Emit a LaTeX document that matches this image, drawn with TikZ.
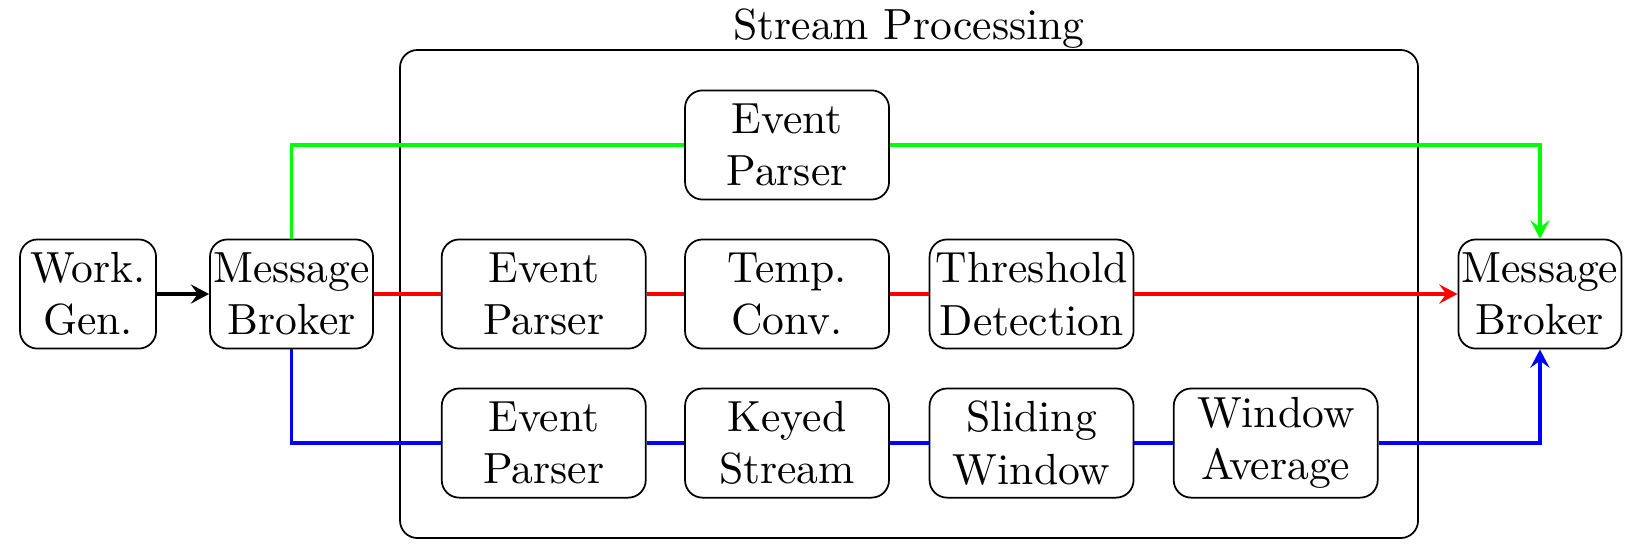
\documentclass[tikz,border=0pt]{standalone}
\usepackage{amsfonts,amssymb,amsmath}
\usepackage{tikz}
\usetikzlibrary{arrows.meta}

\begin{document}
\begin{tikzpicture}[
  block/.style={draw, rounded corners, align=center, inner xsep=0.5pt, inner ysep=2pt, minimum height=0.88cm},
  stage/.style={block, minimum width=1.645cm},
  link/.style={thick},
  flow/.style={thick, -{Stealth[length=4.2pt, width=4.4pt, inset=1.6pt]}}
]
\useasboundingbox (0,0) rectangle (13.258,4.508);

\node (sp) [draw, rounded corners, minimum width=8.21cm, minimum height=3.936cm] at (7.331,2.137) {};
\node (title) [anchor=south, inner sep=0pt] at (sp.north) {Stream Processing};

\node (gen) [block, minimum width=1.097cm] at (0.710,2.137) {Work.\\Gen.};
\node (in) [block, minimum width=1.315cm] at (2.351,2.137) {Message\\Broker};
\node (out) [block, minimum width=1.315cm] at (12.419,2.137) {Message\\Broker};

\node (11) [stage] at (6.347,3.339) {Event\\Parser};

\node (21) [stage] at (4.385,2.137) {Event\\Parser};
\node (22) [stage] at (6.347,2.137) {Temp.\\Conv.};
\node (23) [stage] at (8.319,2.137) {Threshold\\Detection};

\node (31) [stage] at (4.385,0.935) {Event\\Parser};
\node (32) [stage] at (6.347,0.935) {Keyed\\Stream};
\node (33) [stage] at (8.319,0.935) {Sliding\\Window};
\node (34) [stage] at (10.288,0.935) {Window\\Average};

\draw[flow] (gen) -- (in);

\draw[link, green] (in.north) |- (11.west);
\draw[flow, green] (11.east) -| (out.north);

\draw[link, red] (in.east) -- (21.west);
\draw[link, red] (21) -- (22);
\draw[link, red] (22) -- (23);
\draw[flow, red] (23.east) -- (out.west);

\draw[link, blue] (in.south) |- (31.west);
\draw[link, blue] (31) -- (32);
\draw[link, blue] (32) -- (33);
\draw[link, blue] (33) -- (34);
\draw[flow, blue] (34.east) -| (out.south);

\end{tikzpicture}
\end{document}
